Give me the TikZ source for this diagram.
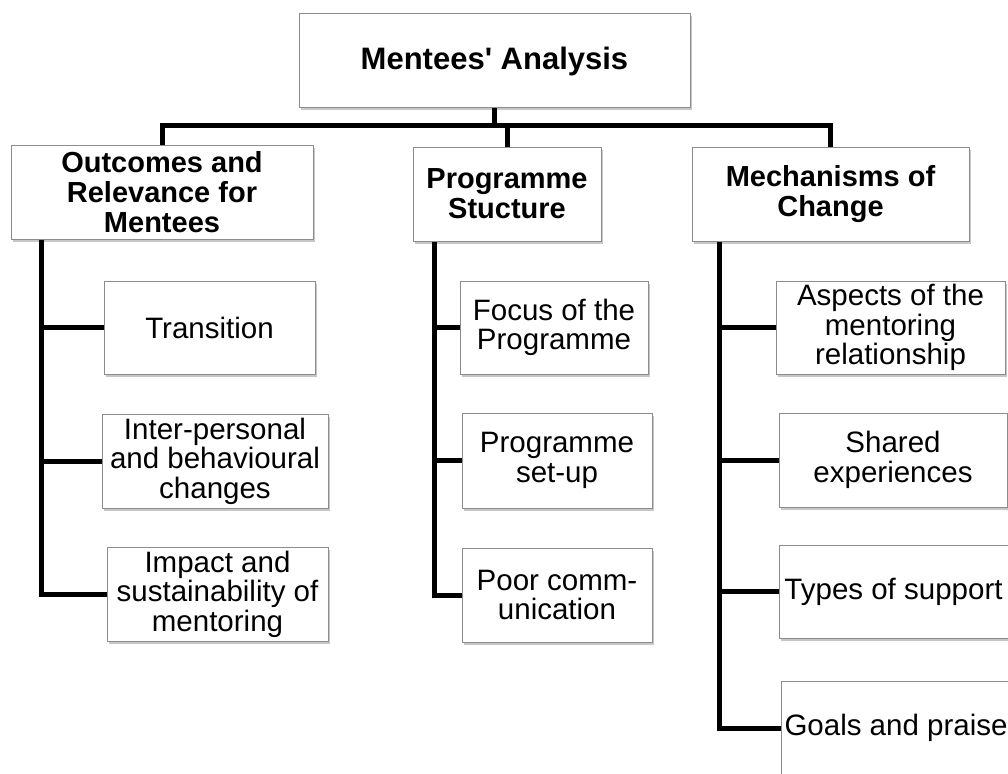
\documentclass[tikz,border=0pt]{standalone}
\usepackage{fontspec}
\setmainfont{Liberation Sans}[Ligatures=TeXOff]
\usetikzlibrary{shadows,backgrounds}
\begin{document}
\begin{tikzpicture}[x=1pt,y=-1pt,
  box/.style={draw=black!45, line width=1pt, fill=white, inner sep=0pt, align=center,
    drop shadow={shadow xshift=1.5pt, shadow yshift=-2.5pt, fill=black, opacity=0.22}},
  rootbox/.style={box, font=\fontsize{31}{34}\selectfont\bfseries},
  headbox/.style={box, font=\fontsize{29}{30}\selectfont\bfseries},
  leafbox/.style={box, font=\fontsize{29.5}{29.5}\selectfont},
  conn/.style={line width=5pt}]
\useasboundingbox (0,0) rectangle (1008,773);

% root
\node[rootbox, minimum width=391pt, minimum height=94pt] (root) at (494.5,61) {Mentees' Analysis};

% themes
\node[headbox, minimum width=302pt, minimum height=94pt] (out) at (162,192)
  {Outcomes and\\Relevance for\\Mentees};
\node[headbox, minimum width=188pt, minimum height=94pt] (prog) at (507,194)
  {Programme\\Stucture};
\node[headbox, minimum width=277pt, minimum height=94pt] (mech) at (830.5,194)
  {Mechanisms of\\Change};

% sub-themes: outcomes
\node[leafbox, minimum width=211pt, minimum height=93pt] (c1) at (209.5,327.5) {Transition};
\node[leafbox, minimum width=226pt, minimum height=94pt] (c2) at (215,461)
  {Inter-personal\\and behavioural\\changes};
\node[leafbox, minimum width=221pt, minimum height=94pt] (c3) at (217.5,594)
  {Impact and\\sustainability of\\mentoring};

% sub-themes: programme structure
\node[leafbox, minimum width=188pt, minimum height=93pt] (m1) at (554,327.5)
  {Focus of the\\Programme};
\node[leafbox, minimum width=190pt, minimum height=95pt] (m2) at (557,460.5)
  {Programme\\set-up};
\node[leafbox, minimum width=190pt, minimum height=94pt] (m3) at (557,595)
  {Poor comm-\\unication};

% sub-themes: mechanisms of change
\node[leafbox, minimum width=229pt, minimum height=93pt] (r1) at (890.5,327.5)
  {Aspects of the\\mentoring\\relationship};
\node[leafbox, minimum width=228pt, minimum height=94pt] (r2) at (893,460)
  {Shared\\experiences};
\node[leafbox, minimum width=229pt, minimum height=93pt] (r3) at (893.5,591.5)
  {Types of support};
\node[leafbox, minimum width=230pt, minimum height=94pt] (r4) at (896,728)
  {Goals and praise};

% connectors
\begin{scope}[on background layer]
  \coordinate (bus) at (0,125);
  \coordinate (tL) at (41,0);
  \coordinate (tM) at (434,0);
  \coordinate (tR) at (719,0);

  \draw[conn] (root.south) -- (root.south |- bus);
  \draw[conn] (out.north) -- (out.north |- bus) -- (mech.north |- bus) -- (mech.north);
  \draw[conn] (prog.north) -- (prog.north |- bus);

  \draw[conn] (out.south -| tL) -- (tL |- c3.west) -- (c3.west);
  \draw[conn] (tL |- c1.west) -- (c1.west);
  \draw[conn] (tL |- c2.west) -- (c2.west);

  \draw[conn] (prog.south -| tM) -- (tM |- m3.west) -- (m3.west);
  \draw[conn] (tM |- m1.west) -- (m1.west);
  \draw[conn] (tM |- m2.west) -- (m2.west);

  \draw[conn] (mech.south -| tR) -- (tR |- r4.west) -- (r4.west);
  \draw[conn] (tR |- r1.west) -- (r1.west);
  \draw[conn] (tR |- r2.west) -- (r2.west);
  \draw[conn] (tR |- r3.west) -- (r3.west);
\end{scope}
\end{tikzpicture}
\end{document}
